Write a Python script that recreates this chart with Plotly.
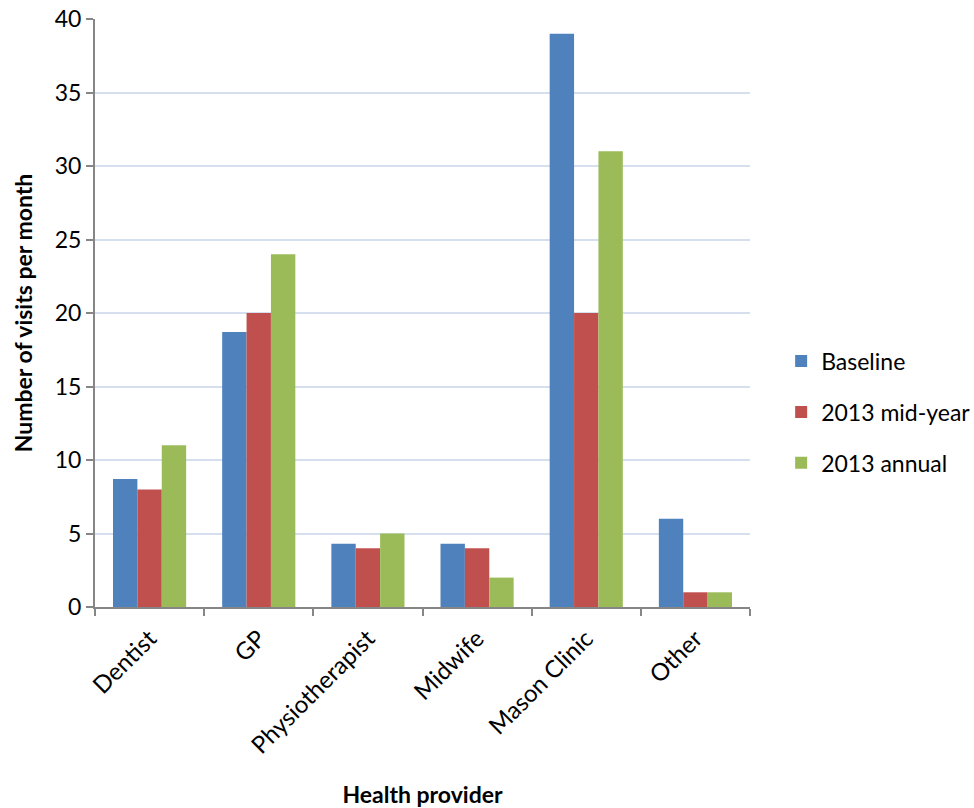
import plotly.graph_objects as go

categories = ["Dentist", "GP", "Physiotherapist", "Midwife", "Mason Clinic", "Other"]
baseline = [8.7, 18.7, 4.3, 4.3, 39, 6]
mid_year = [8, 20, 4, 4, 20, 1]
annual = [11, 24, 5, 2, 31, 1]
y_ticks = [0, 5, 10, 15, 20, 25, 30, 35, 40]

FONT = "Lato, Open Sans, sans-serif"

fig = go.Figure()
series = [("Baseline", baseline, "#4F81BD", "g1"),
          ("2013 mid-year", mid_year, "#C0504D", "g2"),
          ("2013 annual", annual, "#9BBB59", "g3")]
for name, vals, col, grp in series:
    fig.add_trace(go.Bar(x=categories, y=vals, name=name, marker_color=col,
                         marker_line_width=0, legendgroup=grp))

fig.update_layout(
    width=974, height=808,
    margin=dict(l=95, r=224, t=19, b=201, autoexpand=False),
    paper_bgcolor="white", plot_bgcolor="white",
    barmode="group", bargap=0.33, bargroupgap=0,
    font=dict(family=FONT, size=23, color="black"),
    legend=dict(xref="container", yref="container", x=0.802, y=0.49,
                xanchor="left", yanchor="middle",
                font=dict(size=23), tracegroupgap=18, itemsizing="constant"),
    xaxis=dict(
        automargin=False,
        showline=True, linecolor="#868686", linewidth=2,
        ticks="outside", tickson="boundaries", ticklen=7, tickcolor="#868686", tickwidth=2,
        tickangle=-45, tickfont=dict(size=24), ticklabelstandoff=6,
        title=dict(text="<b>Health provider</b>", font=dict(size=23), standoff=30),
    ),
    yaxis=dict(
        automargin=False,
        range=[0, 40], tickvals=y_ticks,
        showline=True, linecolor="#868686", linewidth=2,
        ticks="outside", ticklen=7, tickcolor="#868686", tickwidth=2,
        showgrid=True, gridcolor="#D6DFEE", gridwidth=2,
        tickfont=dict(size=23),
        title=dict(text="<b>Number of visits per month</b>", font=dict(size=23), standoff=16),
        zeroline=False,
    ),
)

fig.write_html("out.html")
